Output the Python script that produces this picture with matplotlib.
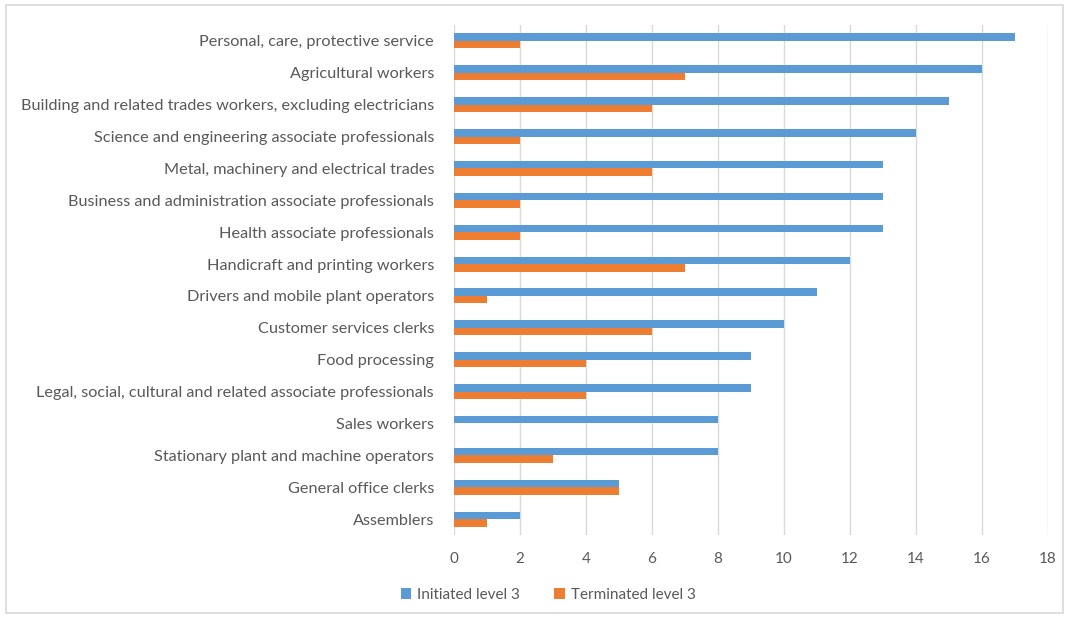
import numpy as np
import matplotlib
matplotlib.use('Agg')
import matplotlib.pyplot as plt
from matplotlib.patches import Rectangle

categories = [
    'Personal, care, protective service',
    'Agricultural workers',
    'Building and related trades workers, excluding electricians',
    'Science and engineering associate professionals',
    'Metal, machinery and electrical trades',
    'Business and administration associate professionals',
    'Health associate professionals',
    'Handicraft and printing workers',
    'Drivers and mobile plant operators',
    'Customer services clerks',
    'Food processing',
    'Legal, social, cultural and related associate professionals',
    'Sales workers',
    'Stationary plant and machine operators',
    'General office clerks',
    'Assemblers',
]
initiated = [17, 16, 15, 14, 13, 13, 13, 12, 11, 10, 9, 9, 8, 8, 5, 2]
terminated = [2, 7, 6, 2, 6, 2, 2, 7, 1, 6, 4, 4, 0, 3, 5, 1]
xticks = [0, 2, 4, 6, 8, 10, 12, 14, 16, 18]

BLUE = '#5B9BD5'
ORANGE = '#ED7D31'
TXT = '#595959'

plt.rcParams['font.family'] = ['Lato', 'DejaVu Sans']

fig = plt.figure(figsize=(10.70, 6.19), dpi=100)
ax = fig.add_axes([454 / 1070, 1 - 535 / 619, 594 / 1070, 510 / 619])

y = np.arange(len(categories))
h = 0.235
ax.barh(y - h / 2, initiated, height=h, color=BLUE, label='Initiated level 3', zorder=3)
ax.barh(y + h / 2, terminated, height=h, color=ORANGE, label='Terminated level 3', zorder=3)

ax.set_ylim(len(categories) - 0.5, -0.5)
ax.set_xlim(0, 18)
ax.set_xticks(xticks)
ax.set_yticks(y)
ax.set_yticklabels(categories)
ax.tick_params(axis='both', length=0, colors=TXT)
ax.tick_params(axis='y', pad=14.4, labelsize=11.7)
ax.tick_params(axis='x', pad=12, labelsize=11)
ax.grid(axis='x', color='#D9D9D9', linewidth=1, zorder=0)
for s in ax.spines.values():
    s.set_visible(False)

fig.legend(loc='center', bbox_to_anchor=(548 / 1070, 1 - 595 / 619), ncol=2,
           frameon=False, fontsize=11, labelcolor=TXT, handlelength=0.7,
           handleheight=0.7, handletextpad=0.4, columnspacing=2.2)

fig.patches.append(Rectangle((6 / 1070, 6 / 619), 1057 / 1070, 608 / 619,
                             transform=fig.transFigure, fill=False,
                             edgecolor='#D9D9D9', linewidth=1.2))

fig.savefig('out.png', dpi=100)
